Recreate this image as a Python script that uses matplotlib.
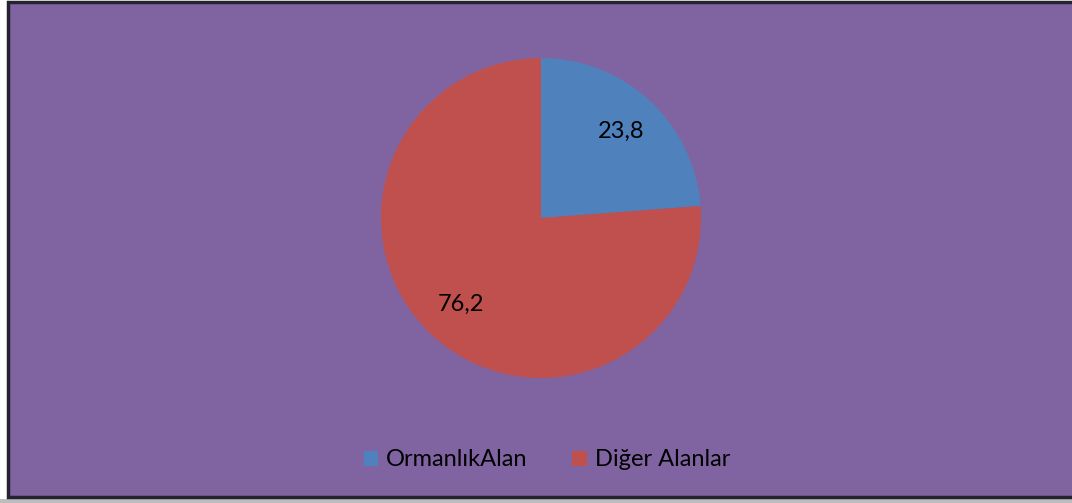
import matplotlib
matplotlib.use("Agg")
import matplotlib.pyplot as plt
from matplotlib.patches import Rectangle

plt.rcParams["font.family"] = ["Lato", "DejaVu Sans"]

categories = ["OrmanlıkAlan", "Diğer Alanlar"]
values = [23.8, 76.2]
colors = ["#4F81BD", "#C0504D"]

W, H = 1072, 503
fig = plt.figure(figsize=(W / 100, H / 100), dpi=100, facecolor="white")

# gray strip at the bottom and purple chart area with a dark border
fig.patches.append(Rectangle((0, 0), 1, 4 / H, transform=fig.transFigure,
                             facecolor="#bdbdbd", edgecolor="none", zorder=0))
fig.patches.append(Rectangle((8 / W, 6 / H), 1.05, (H - 8) / H, transform=fig.transFigure,
                             facecolor="#8064A2", edgecolor="#262330", linewidth=2.5, zorder=1))

ax = fig.add_axes([381 / W, 125 / H, 320 / W, 320 / H])
ax.set_zorder(2)
ax.patch.set_alpha(0)
wedges, texts, autotexts = ax.pie(values, colors=colors, startangle=90, counterclock=False,
                                  radius=1, pctdistance=0.74,
                                  autopct=lambda p: f"{p:.1f}".replace(".", ","),
                                  textprops={"fontsize": 17, "color": "black"})
ax.set_xlim(-1, 1)
ax.set_ylim(-1, 1)
ax.set_aspect("equal")
ax.axis("off")

leg = fig.legend(wedges, categories, loc="center", bbox_to_anchor=(547 / W, 1 - 460 / H),
                 ncol=2, frameon=False, fontsize=17, handlelength=0.6, handleheight=0.6,
                 handletextpad=0.35, columnspacing=1.9)
leg.set_zorder(3)

fig.savefig("out.png", dpi=100, facecolor="white")
